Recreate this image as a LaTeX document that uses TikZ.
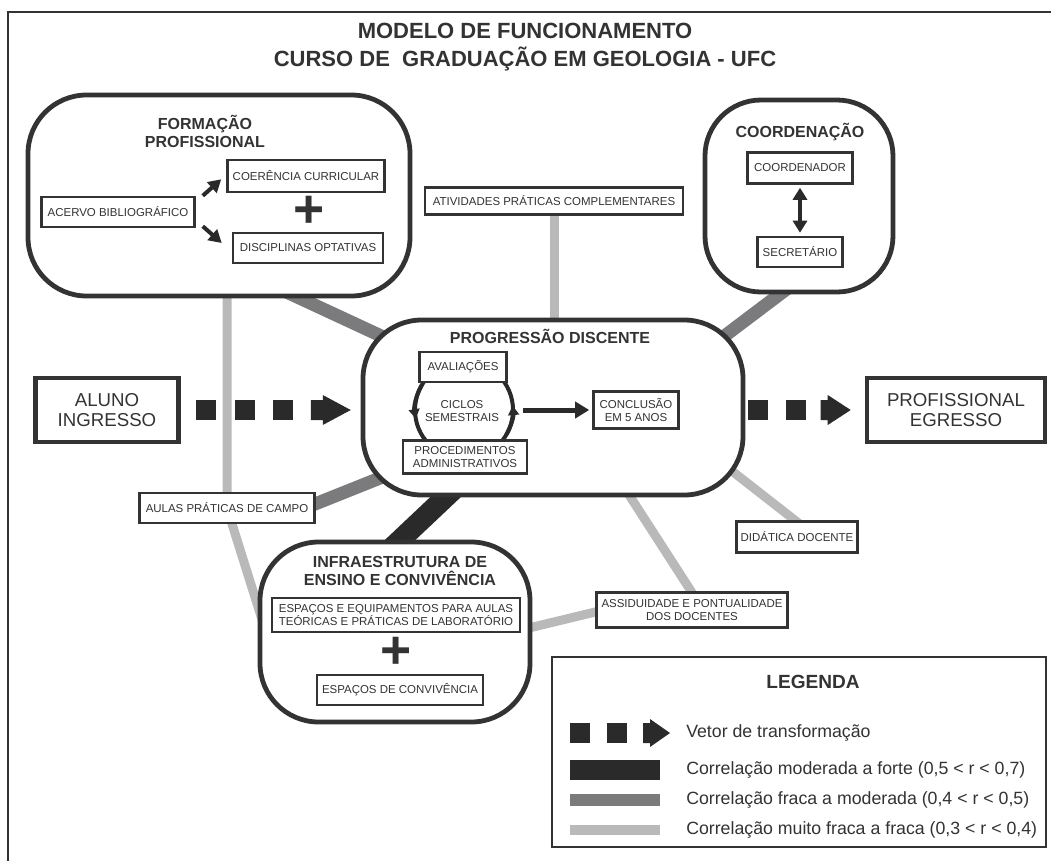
\documentclass[tikz,border=0pt]{standalone}
\usepackage{fontspec}
\setmainfont{Liberation Sans}
\usetikzlibrary{arrows.meta,fit,backgrounds}

\definecolor{inkdark}{HTML}{333333}
\definecolor{corrstrong}{HTML}{2A2A2A}
\definecolor{corrmid}{HTML}{7B7B7D}
\definecolor{corrweak}{HTML}{B9B9B9}

\newcommand\upx{0.75pt}
\newcommand\boxfont{\fontsize{8.6}{9.6}\selectfont}
\newcommand\titlefont{\fontsize{12}{13.5}\selectfont\bfseries}
\newcommand\bigfont{\fontsize{14}{15.5}\selectfont}
\newcommand\legfont{\fontsize{13.3}{15}\selectfont}

\begin{document}
\begin{tikzpicture}[x=0.75pt, y=-0.75pt, text=inkdark,
    bigbox/.style={draw=inkdark, line width=3.6pt, fill=white, rounded corners=44pt, inner sep=0pt},
    smallbox/.style={draw=inkdark, line width=1.9pt, fill=white, font=\boxfont, align=center, inner sep=1pt},
    endbox/.style={draw=inkdark, line width=3.4pt, fill=white, font=\bigfont, align=center, inner sep=1pt},
    boxsize/.style 2 args={minimum width=#1*\upx, minimum height=#2*\upx},
    boxtitle/.style={font=\titlefont, align=center},
    plussign/.style={font=\fontsize{40}{40}\selectfont\bfseries, inner sep=0pt},
    strongcorr/.style={draw=corrstrong, line width=15.75pt},
    midcorr/.style={draw=corrmid, line width=9.75pt},
    weakcorr/.style={draw=corrweak, line width=6.75pt},
    fatarrow/.style={draw=corrstrong, line width=3pt, -{Triangle[length=9.5pt,width=10.5pt]}},
    ringarrow/.style={draw=corrstrong, line width=3pt, -{Triangle[length=7pt,width=8pt]}},
    vecfill/.style={fill=corrstrong},
    legitem/.style={font=\legfont, anchor=west, inner sep=0pt},
  ]
  \useasboundingbox (0,0) rectangle (1051,861);

  % frame and title
  \draw[inkdark, line width=2.2pt] (8,861) -- (8,12) -- (1051,12);
  \node[font=\fontsize{16.5}{20.5}\selectfont\bfseries, align=center] (title) at (525,47)
    {MODELO DE FUNCIONAMENTO\\CURSO DE~ GRADUAÇÃO EM GEOLOGIA - UFC};

  % big rounded boxes
  \node[bigbox, fit={(28,95) (410,296)}] (form) {};
  \node[bigbox, rounded corners=42pt, fit={(705,100) (893,292)}] (coord) {};
  \node[bigbox, fit={(363,320) (743,495)}] (prog) {};
  \node[bigbox, fit={(260,542) (530,722)}] (infra) {};

  % formacao profissional
  \node[boxtitle] (formtitle) at (205,131) {FORMAÇÃO\\PROFISSIONAL};
  \node[smallbox, boxsize={153}{30}] (acervo) at (118,212) {ACERVO BIBLIOGRÁFICO};
  \node[smallbox, boxsize={157}{32}] (coer) at (306,176) {COERÊNCIA CURRICULAR};
  \node[smallbox, boxsize={150}{30}] (disc) at (308,248) {DISCIPLINAS OPTATIVAS};
  \node[plussign] (formplus) at (309,212) {+};
  \draw[fatarrow] ([xshift=7*\upx]acervo.north east) -- ([shift={(-5,-14)}]coer.south west);
  \draw[fatarrow] ([shift={(7,-2)}]acervo.south east) -- ([shift={(-10,-5)}]disc.west);

  % coordenacao
  \node[boxtitle] (coordtitle) at (800,132) {COORDENAÇÃO};
  \node[smallbox, boxsize={105}{31}] (coordenador) at (800,168) {COORDENADOR};
  \node[smallbox, boxsize={85}{30}] (secretario) at (800,252) {SECRETÁRIO};
  \draw[fatarrow, line width=3.4pt, {Triangle[length=9pt,width=10.5pt]}-{Triangle[length=9pt,width=10.5pt]},
    shorten <=3*\upx, shorten >=3*\upx] (coordenador) -- (secretario);

  % progressao discente
  \node[boxtitle] (progtitle) at (550,336) {PROGRESSÃO DISCENTE};
  \node[circle, draw=corrstrong, line width=3pt, minimum size=98*\upx, inner sep=0pt, outer sep=0pt] (ring) at (464,410) {};
  \draw[ringarrow] (ring.150) arc[start angle=150, end angle=190, radius=36.75pt];
  \draw[ringarrow] (ring.-30) arc[start angle=-30, end angle=5, radius=36.75pt];
  \node[smallbox, boxsize={87}{30}] (aval) at (463,367) {AVALIAÇÕES};
  \node[smallbox, boxsize={124}{33}] (proc) at (465,457) {PROCEDIMENTOS\\ADMINISTRATIVOS};
  \node[font=\boxfont, align=center] (ciclos) at (462,411) {CICLOS\\SEMESTRAIS};
  \node[smallbox, boxsize={85}{37}] (concl) at (636,410) {CONCLUSÃO\\EM 5 ANOS};
  \draw[fatarrow, line width=3.75pt, -{Triangle[length=10.5pt,width=12pt]}]
    ([xshift=10*\upx]ring.east) -- ([xshift=-3*\upx]concl.west);

  % entrada e saida
  \node[endbox, boxsize={143}{64}] (aluno) at (107,410) {ALUNO\\INGRESSO};
  \node[endbox, boxsize={178}{64}] (egresso) at (956,410) {PROFISSIONAL\\EGRESSO};
  \foreach \dx in {15,54,92}
    \fill[vecfill] ([xshift=\dx*\upx]aluno.east) ++(0,-10) rectangle ++(20,20);
  \fill[vecfill] ([xshift=130*\upx]aluno.east) ++(0,-10) -- ++(12,0) -- ++(0,-5) -- ++(28,15)
    -- ++(-28,15) -- ++(0,-5) -- ++(-12,0) -- cycle;
  \foreach \dx in {117,79}
    \fill[vecfill] ([xshift=-\dx*\upx]egresso.west) ++(0,-10) rectangle ++(20,20);
  \fill[vecfill] ([xshift=-44*\upx]egresso.west) ++(0,-10) -- ++(7,0) -- ++(0,-5) -- ++(23,15)
    -- ++(-23,15) -- ++(0,-5) -- ++(-7,0) -- cycle;

  % fatores
  \node[smallbox, boxsize={258}{27}] (ativ) at (554,201) {ATIVIDADES PRÁTICAS COMPLEMENTARES};
  \node[smallbox, boxsize={175}{30}] (aulas) at (227,508) {AULAS PRÁTICAS DE CAMPO};
  \node[smallbox, boxsize={121}{31}] (didat) at (797,537) {DIDÁTICA DOCENTE};
  \node[smallbox, boxsize={191}{35}] (assid) at (692,610) {ASSIDUIDADE E PONTUALIDADE\\DOS DOCENTES};

  % infraestrutura
  \node[boxtitle] (infratitle) at (400,571) {INFRAESTRUTURA DE\\ENSINO E CONVIVÊNCIA};
  \node[smallbox, boxsize={248}{34}] (equip) at (396,615) {ESPAÇOS E EQUIPAMENTOS PARA AULAS\\TEÓRICAS E PRÁTICAS DE LABORATÓRIO};
  \node[plussign] (infraplus) at (396,653) {+};
  \node[smallbox, boxsize={166}{30}] (conviv) at (400,690) {ESPAÇOS DE CONVIVÊNCIA};

  % correlacoes
  \begin{scope}[on background layer]
    \fill[white] (0,0) rectangle (1051,861);
    \coordinate (formlow) at (227,280);
    \coordinate (infraleft) at (270,645);
    \coordinate (formright) at (280,289);
    \coordinate (progleft) at (420,354);
    \coordinate (coordlow) at (800,279);
    \coordinate (progright) at (690,362);
    \coordinate (aulasright) at (300,510);
    \coordinate (progbottomleft) at (400,470);
    \coordinate (progbottom) at (470,474);
    \coordinate (infratop) at (380,559);
    \coordinate (progbottomright) at (622,484);
    \coordinate (assidtop) at (700,605);
    \coordinate (assidleft) at (620,606);
    \coordinate (infraright) at (500,635);
    \coordinate (progeast) at (705,450);
    \coordinate (didattop) at (810,532);
    \draw[weakcorr] (formlow) -- (aulas.center) -- (infraleft);
    \draw[weakcorr] (ativ) -- (ativ |- prog);
    \draw[weakcorr] (progbottomright) -- (assidtop);
    \draw[weakcorr] (assidleft) -- (infraright);
    \draw[weakcorr] (progeast) -- (didattop);
    \draw[midcorr] (formright) -- (progleft);
    \draw[midcorr] (coordlow) -- (progright);
    \draw[midcorr] (aulasright) -- (progbottomleft);
    \draw[strongcorr] (progbottom) -- (infratop);
  \end{scope}

  % legenda
  \node[draw=inkdark, line width=1.5pt, inner sep=0pt, fit={(552,657) (1046,847)}] (legend) {};
  \node[font=\fontsize{14.3}{16}\selectfont\bfseries] (legtitle) at (813,682) {LEGENDA};
  \foreach \sx in {570,607}
    \fill[vecfill] (\sx,723) rectangle ++(20,20);
  \fill[vecfill] (643,723) -- (650,723) -- (650,719) -- (670,733) -- (650,747) -- (650,743) -- (643,743) -- cycle;
  \fill[corrstrong] (570,760) rectangle (660,780);
  \fill[corrmid] (570,794) rectangle (660,806);
  \fill[corrweak] (570,825) rectangle (660,835);
  \node[legitem] (legvec) at (686,733) {Vetor de transformação};
  \node[legitem] (legstrong) at (686,770) {Correlação moderada a forte (0,5 < r < 0,7)};
  \node[legitem] (legmid) at (686,800) {Correlação fraca a moderada (0,4 < r < 0,5)};
  \node[legitem] (legweak) at (686,830) {Correlação muito fraca a fraca (0,3 < r < 0,4)};
\end{tikzpicture}
\end{document}
